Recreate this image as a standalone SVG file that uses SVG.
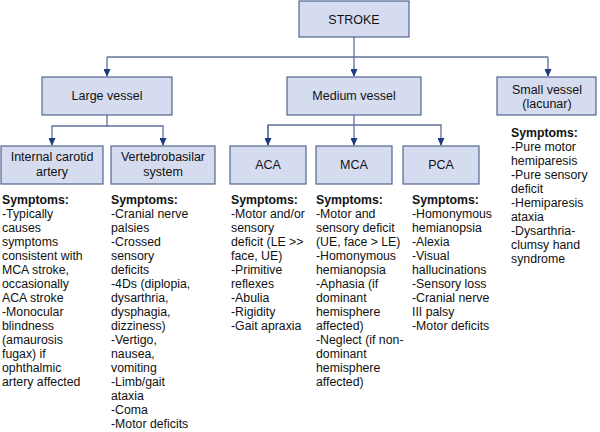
<svg xmlns="http://www.w3.org/2000/svg" width="600" height="432" viewBox="0 0 600 432">
<defs>
<marker id="arr" markerWidth="8" markerHeight="7" refX="7" refY="3.5" orient="auto" markerUnits="userSpaceOnUse">
<path d="M0,0 L8,3.5 L0,7 Z" fill="#1f3c80"/>
</marker>
<style>
.box{fill:#d5dcf0;stroke:#52658f;stroke-width:1.2}
.lbl{font-family:"Liberation Sans",Arial,sans-serif;font-size:12.5px;fill:#111;text-anchor:middle}
.txt{font-family:"Liberation Sans",Arial,sans-serif;font-size:12.3px;fill:#111}
.hd{font-weight:bold}
.con{fill:none;stroke:#5d7099;stroke-width:1.3}
</style>
</defs>
<rect width="600" height="432" fill="#fff"/>
<g id="connectors">
<path class="con" d="M354,37 V57"/>
<path class="con" d="M107,57 H548"/>
<path class="con" d="M107,57 V76" marker-end="url(#arr)"/>
<path class="con" d="M354,57 V76" marker-end="url(#arr)"/>
<path class="con" d="M548,57 V76" marker-end="url(#arr)"/>
<path class="con" d="M107,115 V126 H52 V145" marker-end="url(#arr)"/>
<path class="con" d="M107,126 H163 V145" marker-end="url(#arr)"/>
<path class="con" d="M354,115 V145" marker-end="url(#arr)"/>
<path class="con" d="M268,145 V125 H441 V145" marker-end="url(#arr)"/>
<path class="con" d="M268,125 V145" marker-end="url(#arr)"/>
</g>
<g id="stroke"><rect class="box" x="299" y="1" width="110" height="36"/><text class="lbl" x="354" y="24">STROKE</text></g>
<g id="large"><rect class="box" x="42" y="77" width="130" height="38"/><text class="lbl" x="107" y="100">Large vessel</text></g>
<g id="medium"><rect class="box" x="287" y="77" width="134" height="38"/><text class="lbl" x="354" y="100">Medium vessel</text></g>
<g id="small"><rect class="box" x="497" y="77" width="99" height="38"/><text class="lbl" x="547" y="94">Small vessel</text><text class="lbl" x="547" y="108">(lacunar)</text></g>
<g id="ica"><rect class="box" x="1" y="146" width="102" height="38"/><text class="lbl" x="52" y="161">Internal carotid</text><text class="lbl" x="52" y="176">artery</text></g>
<g id="vb"><rect class="box" x="111" y="146" width="104" height="38"/><text class="lbl" x="163" y="161">Vertebrobasilar</text><text class="lbl" x="163" y="176">system</text></g>
<g id="aca"><rect class="box" x="230" y="146" width="76" height="38"/><text class="lbl" x="268" y="169">ACA</text></g>
<g id="mca"><rect class="box" x="316" y="146" width="76" height="38"/><text class="lbl" x="354" y="169">MCA</text></g>
<g id="pca"><rect class="box" x="403" y="146" width="76" height="38"/><text class="lbl" x="441" y="169">PCA</text></g>
<g id="ica-symptoms">
<text class="txt" x="2" y="204"><tspan class="hd">Symptoms:</tspan><tspan x="2" dy="14">-Typically</tspan><tspan x="2" dy="14">causes</tspan><tspan x="2" dy="14">symptoms</tspan><tspan x="2" dy="14">consistent with</tspan><tspan x="2" dy="14">MCA stroke,</tspan><tspan x="2" dy="14">occasionally</tspan><tspan x="2" dy="14">ACA stroke</tspan><tspan x="2" dy="14">-Monocular</tspan><tspan x="2" dy="14">blindness</tspan><tspan x="2" dy="14">(amaurosis</tspan><tspan x="2" dy="14">fugax) if</tspan><tspan x="2" dy="14">ophthalmic</tspan><tspan x="2" dy="14">artery affected</tspan></text>
</g>
<g id="vb-symptoms">
<text class="txt" x="111" y="204"><tspan class="hd">Symptoms:</tspan><tspan x="111" dy="14">-Cranial nerve</tspan><tspan x="111" dy="14">palsies</tspan><tspan x="111" dy="14">-Crossed</tspan><tspan x="111" dy="14">sensory</tspan><tspan x="111" dy="14">deficits</tspan><tspan x="111" dy="14">-4Ds (diplopia,</tspan><tspan x="111" dy="14">dysarthria,</tspan><tspan x="111" dy="14">dysphagia,</tspan><tspan x="111" dy="14">dizziness)</tspan><tspan x="111" dy="14">-Vertigo,</tspan><tspan x="111" dy="14">nausea,</tspan><tspan x="111" dy="14">vomiting</tspan><tspan x="111" dy="14">-Limb/gait</tspan><tspan x="111" dy="14">ataxia</tspan><tspan x="111" dy="14">-Coma</tspan><tspan x="111" dy="14">-Motor deficits</tspan></text>
</g>
<g id="aca-symptoms">
<text class="txt" x="231" y="204"><tspan class="hd">Symptoms:</tspan><tspan x="231" dy="14">-Motor and/or</tspan><tspan x="231" dy="14">sensory</tspan><tspan x="231" dy="14">deficit (LE &gt;&gt;</tspan><tspan x="231" dy="14">face, UE)</tspan><tspan x="231" dy="14">-Primitive</tspan><tspan x="231" dy="14">reflexes</tspan><tspan x="231" dy="14">-Abulia</tspan><tspan x="231" dy="14">-Rigidity</tspan><tspan x="231" dy="14">-Gait apraxia</tspan></text>
</g>
<g id="mca-symptoms">
<text class="txt" x="316" y="204"><tspan class="hd">Symptoms:</tspan><tspan x="316" dy="14">-Motor and</tspan><tspan x="316" dy="14">sensory deficit</tspan><tspan x="316" dy="14">(UE, face &gt; LE)</tspan><tspan x="316" dy="14">-Homonymous</tspan><tspan x="316" dy="14">hemianopsia</tspan><tspan x="316" dy="14">-Aphasia (if</tspan><tspan x="316" dy="14">dominant</tspan><tspan x="316" dy="14">hemisphere</tspan><tspan x="316" dy="14">affected)</tspan><tspan x="316" dy="14">-Neglect (if non-</tspan><tspan x="316" dy="14">dominant</tspan><tspan x="316" dy="14">hemisphere</tspan><tspan x="316" dy="14">affected)</tspan></text>
</g>
<g id="pca-symptoms">
<text class="txt" x="412" y="204"><tspan class="hd">Symptoms:</tspan><tspan x="412" dy="14">-Homonymous</tspan><tspan x="412" dy="14">hemianopsia</tspan><tspan x="412" dy="14">-Alexia</tspan><tspan x="412" dy="14">-Visual</tspan><tspan x="412" dy="14">hallucinations</tspan><tspan x="412" dy="14">-Sensory loss</tspan><tspan x="412" dy="14">-Cranial nerve</tspan><tspan x="412" dy="14">III palsy</tspan><tspan x="412" dy="14">-Motor deficits</tspan></text>
</g>
<g id="small-symptoms">
<text class="txt" x="511" y="137"><tspan class="hd">Symptoms:</tspan><tspan x="511" dy="14">-Pure motor</tspan><tspan x="511" dy="14">hemiparesis</tspan><tspan x="511" dy="14">-Pure sensory</tspan><tspan x="511" dy="14">deficit</tspan><tspan x="511" dy="14">-Hemiparesis</tspan><tspan x="511" dy="14">ataxia</tspan><tspan x="511" dy="14">-Dysarthria-</tspan><tspan x="511" dy="14">clumsy hand</tspan><tspan x="511" dy="14">syndrome</tspan></text>
</g>
</svg>
